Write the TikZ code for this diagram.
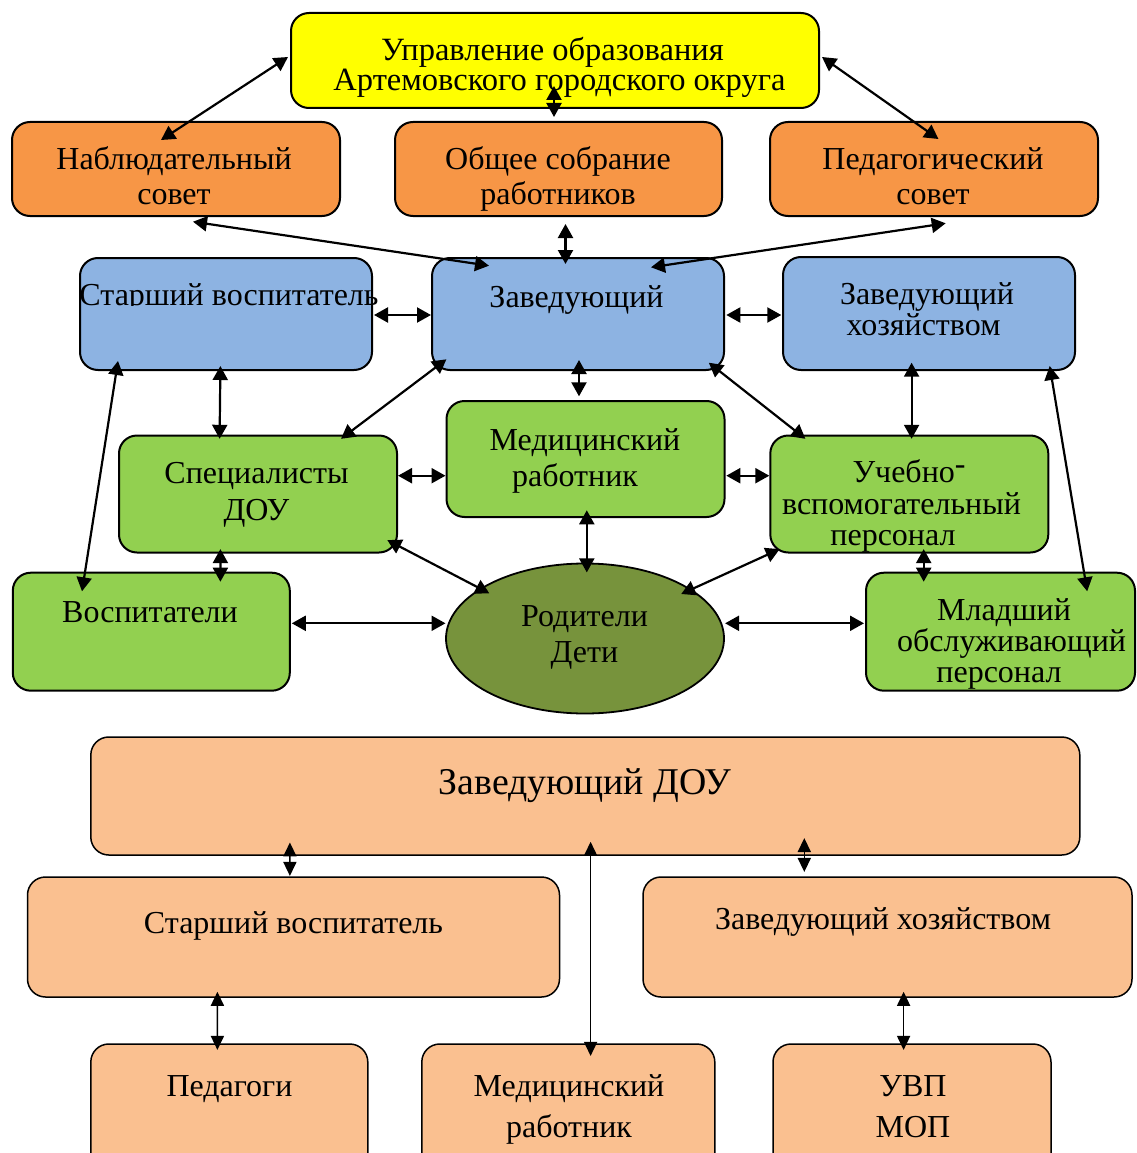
\documentclass[tikz,border=0pt]{standalone}
\usepackage{fontspec}
\setmainfont{Liberation Serif}
\usetikzlibrary{arrows.meta,calc,shapes.geometric}
\definecolor{cyel}{HTML}{FFFF00}
\definecolor{corg}{HTML}{F79646}
\definecolor{cblu}{HTML}{8DB3E2}
\definecolor{cgrn}{HTML}{92D050}
\definecolor{colv}{HTML}{77933C}
\definecolor{cpch}{HTML}{FAC090}
\newcommand\mylines[1]{\vtop{\halign{\hfil##\hfil\cr#1\crcr}}}
\begin{document}
\begin{tikzpicture}[x=1pt,y=-1pt,
  box/.style={draw=black,line width=2pt,rounded corners=18pt,inner sep=0pt},
  pbox/.style={draw=black,line width=1.5pt,rounded corners=18pt,inner sep=0pt,fill=cpch},
  txt/.style={inner sep=0pt,anchor=base,font=\fontsize{32}{35}\selectfont},
  txts/.style={inner sep=0pt,anchor=base,font=\fontsize{32}{31}\selectfont},
  arr/.style={{Triangle[length=14pt,width=15pt]}-{Triangle[length=14pt,width=15pt]},line width=2.2pt},
  arrb/.style={{Triangle[length=14pt,width=13pt]}-{Triangle[length=14pt,width=13pt]},line width=1.6pt}]
\useasboundingbox (0,0) rectangle (1136,1153);
\fill[white] (0,0) rectangle (1136,1153);

% ---------- upper scheme ----------
\node[box,fill=cyel,minimum width=528pt,minimum height=95pt] (yel) at (555,60.5) {};
\node[box,fill=corg,minimum width=328pt,minimum height=94pt] (nab) at (176,169) {};
\node[box,fill=corg,minimum width=327pt,minimum height=94pt] (obs) at (558.5,169) {};
\node[box,fill=corg,minimum width=328pt,minimum height=94pt] (ped) at (934,169) {};
\node[box,fill=cblu,minimum width=292pt,minimum height=112pt] (sv) at (226,314) {};
\node[box,fill=cblu,minimum width=292pt,minimum height=112pt] (zav) at (578,314) {};
\node[box,fill=cblu,minimum width=292pt,minimum height=113pt] (zh) at (929,313.5) {};
\node[box,fill=cgrn,minimum width=278pt,minimum height=117pt] (spec) at (258,494) {};
\node[box,fill=cgrn,minimum width=278pt,minimum height=116pt] (med) at (585.5,459) {};
\node[box,fill=cgrn,minimum width=278pt,minimum height=117pt] (ucheb) at (909.3,494) {};
\node[box,fill=cgrn,minimum width=277pt,minimum height=118pt] (vos) at (151.3,631.7) {};
\node[draw=black,line width=1.8pt,fill=colv,ellipse,inner sep=0pt,minimum width=278pt,minimum height=150pt] (rod) at (585,638.5) {};
\node[box,fill=cgrn,minimum width=269pt,minimum height=118pt] (ml) at (1000.5,631.7) {};

\node[inner sep=0pt,anchor=base,font=\fontsize{32.5}{30}\selectfont] (yel-t) at (559.5,61)
  {\mylines{Управление образования\kern14pt\cr Артемовского городского округа}};
\node[txt] (nab-t) at (174,169.3) {\mylines{Наблюдательный\cr совет}};
\node[txt] (obs-t) at (558,169.3) {\mylines{Общее собрание\cr работников}};
\node[txt] (ped-t) at (933,169.3) {\mylines{Педагогический\cr совет}};
\begin{scope}
  \clip (60,270) rectangle (400,305);
  \node[txt] (sv-t) at (229,305) {Старший воспитатель};
\end{scope}
\node[txt] (zav-t) at (576.5,307) {Заведующий};
\node[txts] (zh-t) at (927,304.3) {\mylines{Заведующий\cr хозяйством\kern7pt}};
\node[txt,font=\fontsize{32}{36.7}\selectfont] (spec-t) at (256.5,483.3) {\mylines{Специалисты\cr ДОУ}};
\node[txt,font=\fontsize{32}{36}\selectfont] (med-t) at (585,450) {\mylines{Медицинский\cr работник\kern20pt}};
\node[txts,font=\fontsize{32}{31.7}\selectfont] (ucheb-t) at (901.5,482.3)
  {\mylines{\kern15pt Учебно\raisebox{0.25em}{-}\cr вспомогательный\cr персонал\kern17pt}};
\node[txt] (vos-t) at (150,622.3) {Воспитатели};
\node[txt,font=\fontsize{32}{36}\selectfont] (rod-t) at (584.5,626.7) {\mylines{Родители\cr Дети}};
\node[txts] (ml-t) at (1011.5,620.7) {\mylines{Младший\kern15pt\cr обслуживающий\cr персонал\kern25pt}};

\draw[arr] ($(yel.west)+(-2,-3.5)$) -- ($(nab.north)+(-15,19)$);
\draw[arr] ($(yel.east)+(2,-3.5)$) -- ($(ped.north)+(4.4,18)$);
\draw[arr] ($(yel.south)+(-1,-23)$) -- ($(obs.north)+(-4.5,-4)$);
\draw[arr] ($(nab.south)+(17,4.7)$) -- ($(zav.north)+(-89,8.7)$);
\draw[arr] ($(obs.south)+(7,7)$) -- ($(zav.north)+(-12.5,7)$);
\draw[arr] ($(ped.south)+(11.7,6.3)$) -- ($(zav.north)+(73,10.3)$);
\draw[arr] ($(sv.east)+(1,1)$) -- ($(zav.west)+(0,1)$);
\draw[arr] ($(zav.east)+(1.3,1)$) -- ($(zh.west)+(-0.7,1.5)$);
\draw[arr] ($(sv.south)+(-108,-10)$) -- ($(vos.north)+(-69.3,19.6)$);
\draw[arr] ($(sv.south)+(-5.6,-5)$) -- ($(spec.north)+(-38.4,4.3)$);
\draw[arr] ($(zav.south)+(-131.6,-11.7)$) -- ($(spec.north)+(83,4.3)$);
\draw[arr] ($(zav.south)+(1,-11)$) -- ($(med.north)+(-6.5,-3.7)$);
\draw[arr] ($(zav.south)+(130.8,-8.3)$) -- ($(ucheb.north)+(-103.9,4.3)$);
\draw[arr] ($(zh.south)+(-17.4,-8.3)$) -- ($(ucheb.north)+(2.3,4.3)$);
\draw[arr] ($(zh.south)+(120.7,-5)$) -- ($(ml.north)+(86.7,19.6)$);
\draw[arr] ($(spec.east)+(0,-18.3)$) -- ($(med.west)+(0,16.7)$);
\draw[arr] ($(med.east)+(0.8,16.7)$) -- ($(ucheb.west)+(0,-18.3)$);
\draw[arr] ($(spec.south)+(-37.6,-4.4)$) -- ($(vos.north)+(69.1,10)$);
\draw[arr] ($(spec.south east)+(-10.7,-13.4)$) -- ($(rod.center)+(-95.7,-45.2)$);
\draw[arr] ($(med.south)+(1.3,-7.7)$) -- ($(rod.north)+(1.8,9.8)$);
\draw[arr] ($(ucheb.south west)+(10.4,-4.4)$) -- ($(rod.center)+(96.2,-44.5)$);
\draw[arr] ($(ucheb.south)+(14.4,-4.4)$) -- ($(ml.north)+(-76.8,10)$);
\draw[arr] ($(vos.east)+(1,-8.4)$) -- ($(rod.west)+(0.4,-15.2)$);
\draw[arr] ($(rod.east)+(0.2,-15.2)$) -- ($(ml.west)+(-1,-8.4)$);

% ---------- lower scheme ----------
\node[pbox,minimum width=989pt,minimum height=118pt] (dou) at (585.3,796) {};
\node[pbox,minimum width=532pt,minimum height=120pt] (bsv) at (293.5,937) {};
\node[pbox,minimum width=489pt,minimum height=120pt] (bzh) at (887.5,937) {};
\node[pbox,minimum width=277pt,minimum height=130pt] (ped2) at (229.3,1109) {};
\node[pbox,minimum width=293pt,minimum height=130pt] (med2) at (568.3,1109) {};
\node[pbox,minimum width=278pt,minimum height=130pt] (uvp) at (912,1109) {};

\node[txt,font=\fontsize{37.8}{40}\selectfont] (dou-t) at (585,794) {Заведующий ДОУ};
\node[txt] (bsv-t) at (293.5,933) {Старший воспитатель};
\node[txt] (bzh-t) at (883,929) {Заведующий хозяйством};
\node[txt] (ped2-t) at (229.5,1096) {Педагоги};
\node[txt,font=\fontsize{32}{41}\selectfont] (med2-t) at (569,1096) {\mylines{Медицинский\cr работник}};
\node[txt,font=\fontsize{32}{41}\selectfont] (uvp-t) at (913,1096) {\mylines{УВП\cr МОП}};

\draw[arrb] ($(dou.south)+(-295.4,-13.3)$) -- ($(bsv.north)+(-3.6,-0.3)$);
\draw[arrb] ($(dou.south)+(5.3,-14)$) -- ($(med2.north)+(22.3,12.7)$);
\draw[arrb] ($(dou.south)+(219,-17.7)$) -- ($(bzh.north)+(-83.2,-4.3)$);
\draw[arrb] ($(bsv.south)+(-76.1,-6)$) -- ($(ped2.north)+(-11.9,6.7)$);
\draw[arrb] ($(bzh.south)+(16.1,-6)$) -- ($(uvp.north)+(-8.4,6.7)$);
\end{tikzpicture}
\end{document}
